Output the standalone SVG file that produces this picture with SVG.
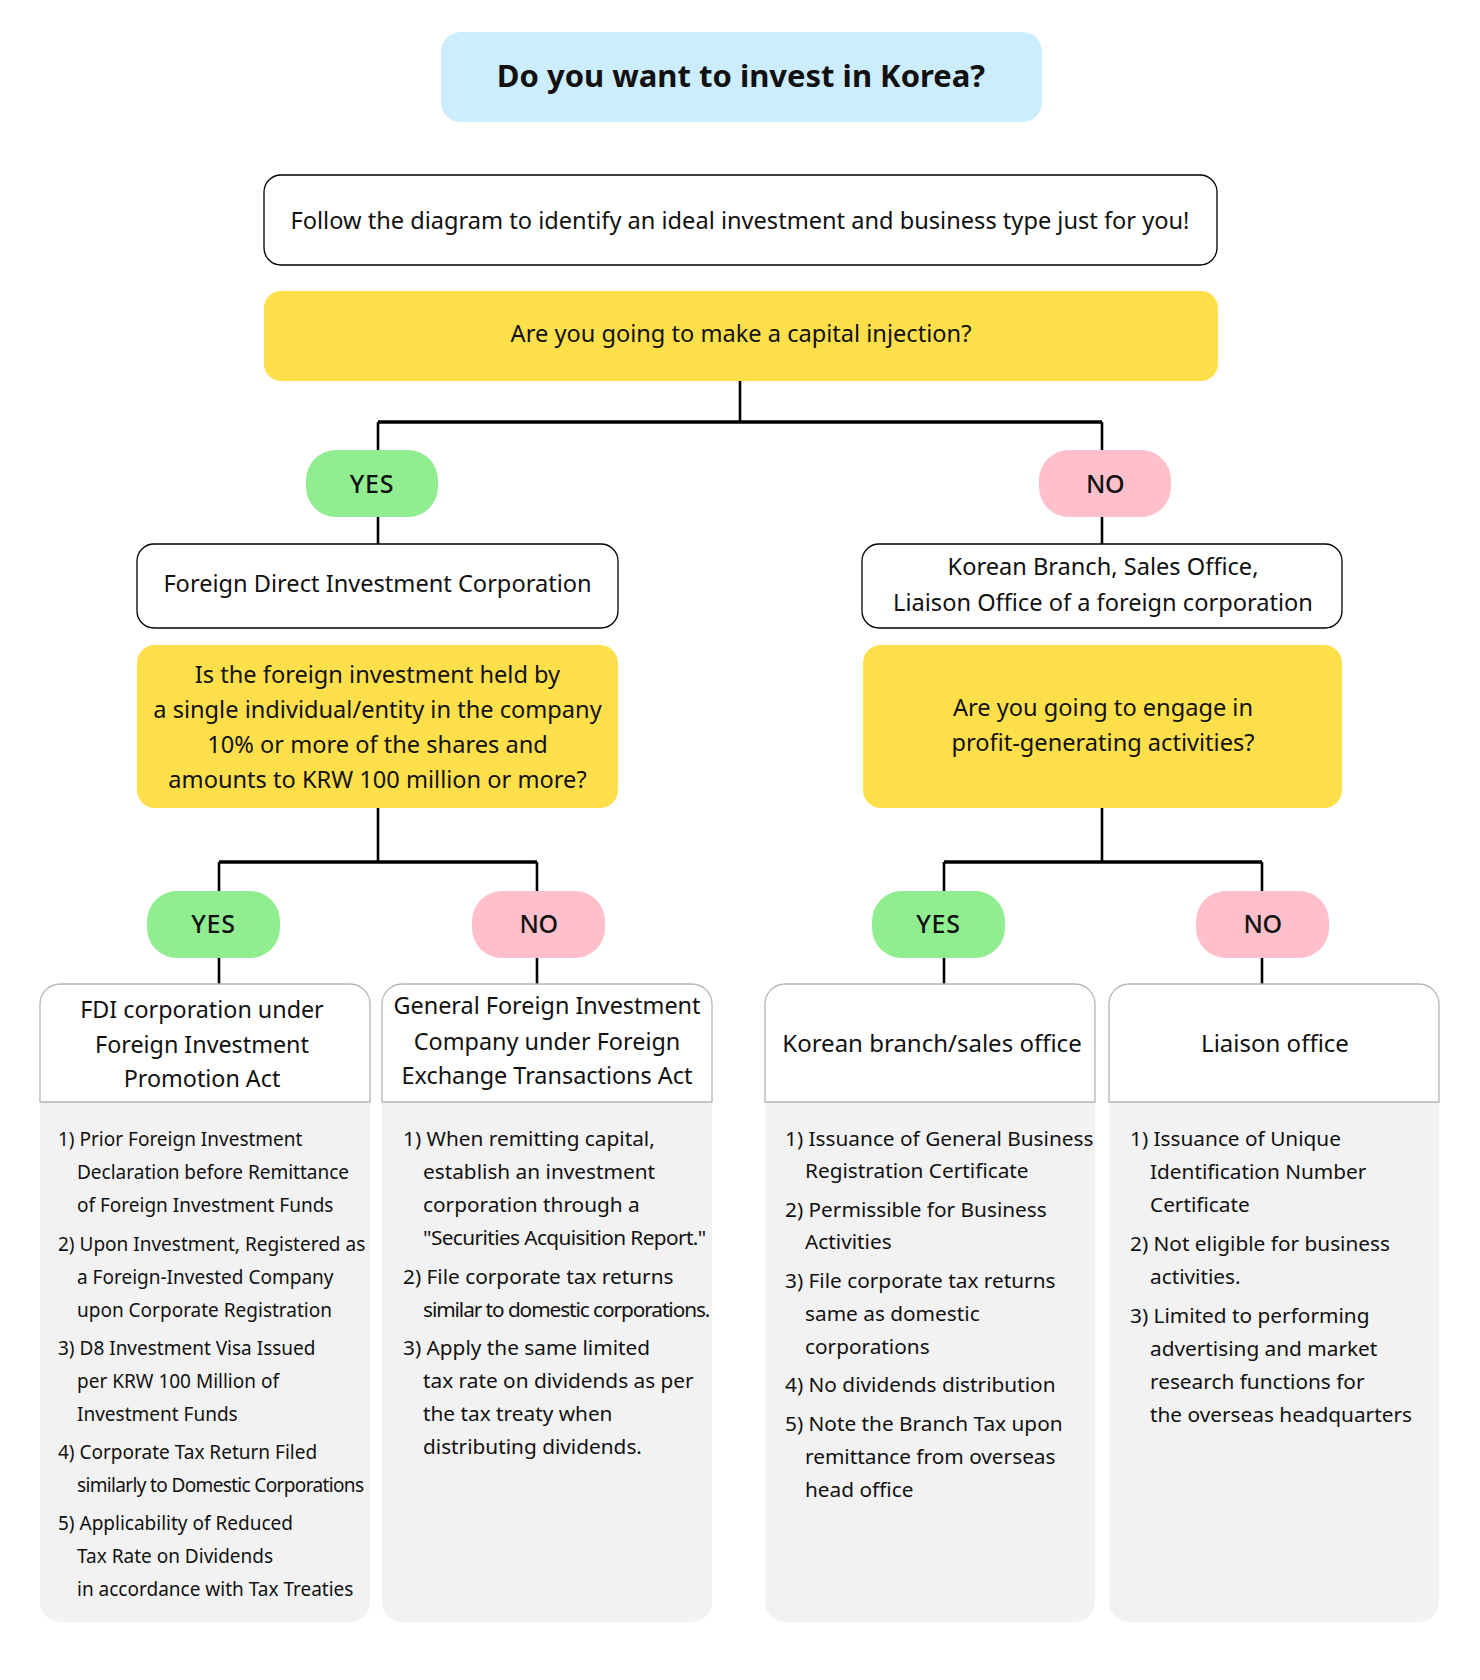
<svg xmlns="http://www.w3.org/2000/svg" width="1480" height="1680" viewBox="0 0 1480 1680">
<style>
text{font-family:"Noto Sans","Liberation Sans",sans-serif;fill:#111;}
.t{font-size:23.6px;text-anchor:middle;}
.title{font-size:31px;font-weight:700;text-anchor:middle;}
.pill{font-size:25px;font-weight:500;text-anchor:middle;}
.hd{font-size:24px;text-anchor:middle;}
.l1{font-size:19px;}
.l{font-size:20.8px;}
.box{fill:#fff;stroke:#000;stroke-width:1.3;}
.q{fill:#FFDF4A;}
.yes{fill:#90EE90;}
.no{fill:#FFC0CB;}
.hdr{fill:#fff;stroke:#b5b5b5;stroke-width:1.3;}
.body{fill:#f2f2f2;}
.cv{stroke:#000;stroke-width:2.6;fill:none;}
.ch{stroke:#000;stroke-width:3.4;fill:none;}
</style>

<g id="connectors">
<line class="cv" x1="740" y1="381" x2="740" y2="422"/>
<line class="ch" x1="378" y1="422" x2="1102" y2="422"/>
<line class="cv" x1="378" y1="422" x2="378" y2="544"/>
<line class="cv" x1="1102" y1="422" x2="1102" y2="544"/>
<line class="cv" x1="378" y1="808" x2="378" y2="862"/>
<line class="ch" x1="219" y1="862" x2="537" y2="862"/>
<line class="cv" x1="219" y1="862" x2="219" y2="984"/>
<line class="cv" x1="537" y1="862" x2="537" y2="984"/>
<line class="cv" x1="1102" y1="808" x2="1102" y2="862"/>
<line class="ch" x1="944" y1="862" x2="1262" y2="862"/>
<line class="cv" x1="944" y1="862" x2="944" y2="984"/>
<line class="cv" x1="1262" y1="862" x2="1262" y2="984"/>
</g>

<g id="title">
<rect x="441" y="32" width="601" height="90" rx="20" fill="#CCEDFD"/>
<text class="title" x="741" y="87">Do you want to invest in Korea?</text>
</g>

<g id="intro">
<rect class="box" x="264" y="175" width="953" height="90" rx="17"/>
<text class="t" x="740" y="228.5">Follow the diagram to identify an ideal investment and business type just for you!</text>
</g>

<g id="q-capital">
<rect class="q" x="264" y="291" width="954" height="90" rx="17"/>
<text class="t" x="741" y="342">Are you going to make a capital injection?</text>
</g>

<g id="yes-1">
<rect class="yes" x="306" y="450" width="132" height="67" rx="30"/>
<text class="pill" x="372" y="492.5" letter-spacing="0.8">YES</text>
</g>

<g id="no-1">
<rect class="no" x="1039" y="450" width="132" height="67" rx="30"/>
<text class="pill" x="1105" y="492.5" letter-spacing="-0.5">NO</text>
</g>

<g id="fdi-corp">
<rect class="box" x="137" y="544" width="481" height="84" rx="17"/>
<text class="t" x="377.5" y="592">Foreign Direct Investment Corporation</text>
</g>

<g id="branch-corp">
<rect class="box" x="862" y="544" width="480" height="84" rx="17"/>
<text class="t" x="1103" y="575">Korean Branch, Sales Office,</text>
<text class="t" x="1103" y="610.5">Liaison Office of a foreign corporation</text>
</g>

<g id="q-share">
<rect class="q" x="137" y="645" width="481" height="163" rx="18"/>
<text class="t" x="377.5" y="682.5">Is the foreign investment held by</text>
<text class="t" x="377.5" y="717.5">a single individual/entity in the company</text>
<text class="t" x="377.5" y="752.5">10% or more of the shares and</text>
<text class="t" x="377.5" y="787.5">amounts to KRW 100 million or more?</text>
</g>

<g id="q-profit">
<rect class="q" x="863" y="645" width="479" height="163" rx="18"/>
<text class="t" x="1103" y="715.5">Are you going to engage in</text>
<text class="t" x="1103" y="750.5">profit-generating activities?</text>
</g>

<g id="yes-2">
<rect class="yes" x="147" y="891" width="133" height="67" rx="30"/>
<text class="pill" x="213.5" y="933" letter-spacing="0.8">YES</text>
</g>
<g id="no-2">
<rect class="no" x="472" y="891" width="133" height="67" rx="30"/>
<text class="pill" x="538.5" y="933" letter-spacing="-0.5">NO</text>
</g>
<g id="yes-3">
<rect class="yes" x="872" y="891" width="133" height="67" rx="30"/>
<text class="pill" x="938.5" y="933" letter-spacing="0.8">YES</text>
</g>
<g id="no-3">
<rect class="no" x="1196" y="891" width="133" height="67" rx="30"/>
<text class="pill" x="1262.5" y="933" letter-spacing="-0.5">NO</text>
</g>

<g id="fdi-promotion">
<path class="body" d="M40,1102H370V1602A20,20 0 0 1 350,1622H60A20,20 0 0 1 40,1602Z"/>
<path class="hdr" d="M40,1102V1004A20,20 0 0 1 60,984H350A20,20 0 0 1 370,1004V1102Z"/>
<text class="hd" x="202" y="1018" style="font-size:23.3px">FDI corporation under</text>
<text class="hd" x="202" y="1053" style="font-size:23.3px">Foreign Investment</text>
<text class="hd" x="202" y="1087" style="font-size:23.3px">Promotion Act</text>
<text class="l1" x="58" y="1146">1) Prior Foreign Investment</text>
<text class="l1" x="77" y="1179">Declaration before Remittance</text>
<text class="l1" x="77" y="1212">of Foreign Investment Funds</text>
<text class="l1" x="58" y="1251">2) Upon Investment, Registered as</text>
<text class="l1" x="77" y="1284">a Foreign-Invested Company</text>
<text class="l1" x="77" y="1317">upon Corporate Registration</text>
<text class="l1" x="58" y="1355">3) D8 Investment Visa Issued</text>
<text class="l1" x="77" y="1388">per KRW 100 Million of</text>
<text class="l1" x="77" y="1421">Investment Funds</text>
<text class="l1" x="58" y="1459">4) Corporate Tax Return Filed</text>
<text class="l1" x="77" y="1492" letter-spacing="-0.65">similarly to Domestic Corporations</text>
<text class="l1" x="58" y="1530">5) Applicability of Reduced</text>
<text class="l1" x="77" y="1563">Tax Rate on Dividends</text>
<text class="l1" x="77" y="1596">in accordance with Tax Treaties</text>
</g>

<g id="general-fi">
<path class="body" d="M382,1102H712V1602A20,20 0 0 1 692,1622H402A20,20 0 0 1 382,1602Z"/>
<path class="hdr" d="M382,1102V1004A20,20 0 0 1 402,984H692A20,20 0 0 1 712,1004V1102Z"/>
<text class="hd" x="547" y="1014" style="font-size:23.4px">General Foreign Investment</text>
<text class="hd" x="547" y="1050" style="font-size:23.4px">Company under Foreign</text>
<text class="hd" x="547" y="1084" style="font-size:23.4px">Exchange Transactions Act</text>
<text class="l" x="403" y="1146">1) When remitting capital,</text>
<text class="l" x="423" y="1179">establish an investment</text>
<text class="l" x="423" y="1212">corporation through a</text>
<text class="l" x="423" y="1245" letter-spacing="-0.6">"Securities Acquisition Report."</text>
<text class="l" x="403" y="1284">2) File corporate tax returns</text>
<text class="l" x="423" y="1317" letter-spacing="-1.07">similar to domestic corporations.</text>
<text class="l" x="403" y="1355">3) Apply the same limited</text>
<text class="l" x="423" y="1388">tax rate on dividends as per</text>
<text class="l" x="423" y="1421">the tax treaty when</text>
<text class="l" x="423" y="1454">distributing dividends.</text>
</g>

<g id="branch-office">
<path class="body" d="M765,1102H1095V1602A20,20 0 0 1 1075,1622H785A20,20 0 0 1 765,1602Z"/>
<path class="hdr" d="M765,1102V1004A20,20 0 0 1 785,984H1075A20,20 0 0 1 1095,1004V1102Z"/>
<text class="hd" x="932" y="1052">Korean branch/sales office</text>
<text class="l" x="785" y="1146">1) Issuance of General Business</text>
<text class="l" x="805" y="1178">Registration Certificate</text>
<text class="l" x="785" y="1217">2) Permissible for Business</text>
<text class="l" x="805" y="1249">Activities</text>
<text class="l" x="785" y="1288">3) File corporate tax returns</text>
<text class="l" x="805" y="1321">same as domestic</text>
<text class="l" x="805" y="1354">corporations</text>
<text class="l" x="785" y="1392">4) No dividends distribution</text>
<text class="l" x="785" y="1431">5) Note the Branch Tax upon</text>
<text class="l" x="805" y="1464">remittance from overseas</text>
<text class="l" x="805" y="1497">head office</text>
</g>

<g id="liaison-office">
<path class="body" d="M1109,1102H1439V1602A20,20 0 0 1 1419,1622H1129A20,20 0 0 1 1109,1602Z"/>
<path class="hdr" d="M1109,1102V1004A20,20 0 0 1 1129,984H1419A20,20 0 0 1 1439,1004V1102Z"/>
<text class="hd" x="1275" y="1052">Liaison office</text>
<text class="l" x="1130" y="1146">1) Issuance of Unique</text>
<text class="l" x="1150" y="1179">Identification Number</text>
<text class="l" x="1150" y="1212">Certificate</text>
<text class="l" x="1130" y="1251">2) Not eligible for business</text>
<text class="l" x="1150" y="1284">activities.</text>
<text class="l" x="1130" y="1323">3) Limited to performing</text>
<text class="l" x="1150" y="1356">advertising and market</text>
<text class="l" x="1150" y="1389">research functions for</text>
<text class="l" x="1150" y="1422">the overseas headquarters</text>
</g>
</svg>
